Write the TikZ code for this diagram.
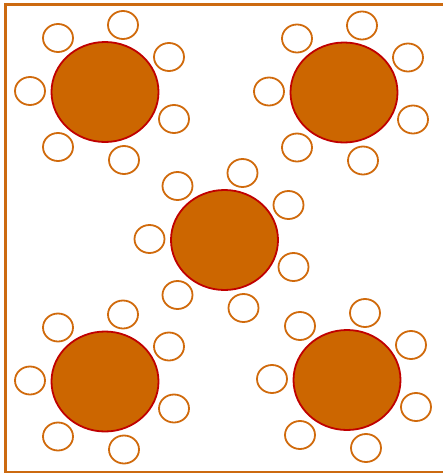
\documentclass[tikz,border=0pt]{standalone}
\usepackage{tikz}
\usetikzlibrary{shapes,calc}
\usepackage{xcolor}
\definecolor{tableorange}{HTML}{CC6600}
\definecolor{tablered}{HTML}{C00000}
\definecolor{chairorange}{HTML}{D06A0C}
\definecolor{wallorange}{HTML}{CC6A10}

\begin{document}
\begin{tikzpicture}[x=1pt, y=-1pt,
  roundtable/.style={ellipse, draw=tablered, fill=tableorange, line width=1.8pt,
    minimum width=107pt, minimum height=100pt, inner sep=0pt},
  chair/.style={ellipse, draw=chairorange, fill=white, line width=1.8pt,
    minimum width=30pt, minimum height=28pt, inner sep=0pt}]
  \useasboundingbox (0,0) rectangle (442,474);
  % room outline
  \draw[line width=2.2pt, draw=wallorange] (443,4.5) -- (5.5,4.5) -- (5.5,472) -- (443,472);
  % tables with their chairs
  \foreach \n/\x/\y in {1/105/92, 2/344/92.5, 3/224.5/240, 4/105/381.5, 5/347/380} {
    \node[roundtable] (t\n) at (\x,\y) {};
    \foreach \dx/\dy [count=\c] in {18/-67, -47/-54, 64/-35, -75/-1, 69/27, -47/55, 19/68}
      \node[chair] (t\n c\c) at ($(t\n)+(\dx,\dy)$) {};
  }
\end{tikzpicture}
\end{document}
